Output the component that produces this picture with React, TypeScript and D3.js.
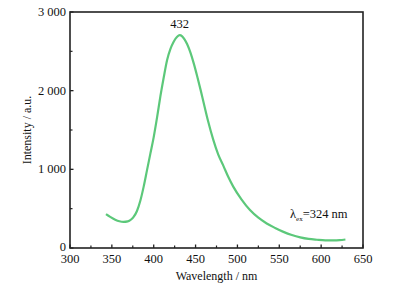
import React from "react";
import * as d3 from "d3";

const wavelengths = [343, 348, 354, 359, 364, 369, 373, 376, 380, 384, 388, 392, 396, 400, 404, 408, 412, 416, 420, 424, 428, 431, 434, 437, 440, 444, 448, 452, 456, 460, 465, 471, 477, 483, 489, 495, 505, 515, 525, 535, 545, 555, 565, 575, 585, 595, 605, 615, 622, 629];
const intensity = [430, 395, 360, 340, 332, 338, 362, 395, 470, 600, 780, 990, 1200, 1410, 1660, 1930, 2170, 2390, 2530, 2625, 2685, 2705, 2690, 2650, 2590, 2480, 2340, 2180, 2010, 1830, 1610, 1380, 1190, 1050, 905, 780, 615, 482, 385, 312, 255, 205, 165, 135, 115, 105, 98, 97, 100, 108];

const xTicks = [300, 350, 400, 450, 500, 550, 600, 650];
const xMinor = [325, 375, 425, 475, 525, 575, 625];
const yTicks = [0, 1000, 2000, 3000];
const yMinor = [500, 1500, 2500];
const yTickLabels = ["0", "1 000", "2 000", "3 000"];
const peakLabel = "432";
const peakWavelength = 432;
const peakValue = 2705;

export default function App() {
  const W = 395, H = 287;
  const left = 70, right = 363, top = 12, bottom = 248;
  const x = d3.scaleLinear().domain([300, 650]).range([left, right]);
  const y = d3.scaleLinear().domain([0, 3000]).range([bottom, top]);
  const line = d3
    .line<number>()
    .x((_, i) => x(wavelengths[i]))
    .y((d) => y(d))
    .curve(d3.curveMonotoneX);
  const ts: React.CSSProperties = { fontFamily: "'Liberation Serif', 'DejaVu Serif', serif" };
  const axisColor = "#222";
  return (
    <svg width={W} height={H} style={{ position: "absolute", left: 0, top: 0, background: "#fff" }}>
      <rect x={0} y={0} width={W} height={H} fill="#fff" />
      <rect x={left} y={top} width={right - left} height={bottom - top} fill="none" stroke={axisColor} strokeWidth={1.6} />
      {xTicks.map((t) => (
        <g key={"xt" + t}>
          <line x1={x(t)} x2={x(t)} y1={bottom} y2={bottom - 3.5} stroke={axisColor} strokeWidth={1.3} />
          <text x={x(t)} y={bottom + 15} fontSize={12.5} textAnchor="middle" fill="#111" style={ts}>{t}</text>
        </g>
      ))}
      {xMinor.map((t) => (
        <line key={"xm" + t} x1={x(t)} x2={x(t)} y1={bottom} y2={bottom - 2.5} stroke={axisColor} strokeWidth={1.2} />
      ))}
      {yTicks.map((t, i) => (
        <g key={"yt" + t}>
          <line x1={left} x2={left + 3.5} y1={y(t)} y2={y(t)} stroke={axisColor} strokeWidth={1.3} />
          <text x={left - 4} y={y(t) + (t === 0 ? 3 : 4)} fontSize={12.5} textAnchor="end" fill="#111" style={ts}>{yTickLabels[i]}</text>
        </g>
      ))}
      {yMinor.map((t) => (
        <line key={"ym" + t} x1={left} x2={left + 2.5} y1={y(t)} y2={y(t)} stroke={axisColor} strokeWidth={1.2} />
      ))}
      <path d={line(intensity) || ""} fill="none" stroke="#5cc87a" strokeWidth={2.2} strokeLinejoin="round" />
      <text x={x(peakWavelength) - 1} y={y(peakValue) - 7} fontSize={12.5} textAnchor="middle" fill="#111" style={ts}>{peakLabel}</text>
      <text x={290} y={218} fontSize={12.5} fill="#111" style={ts}>
        λ<tspan fontSize={7} dy={3}>ex</tspan><tspan dy={-3}>=324 nm</tspan>
      </text>
      <text x={(left + right) / 2} y={280} fontSize={12} textAnchor="middle" fill="#111" style={ts}>Wavelength / nm</text>
      <text transform={`translate(31, ${(top + bottom) / 2}) rotate(-90)`} fontSize={12} textAnchor="middle" fill="#111" style={ts}>Intensity / a.u.</text>
    </svg>
  );
}
